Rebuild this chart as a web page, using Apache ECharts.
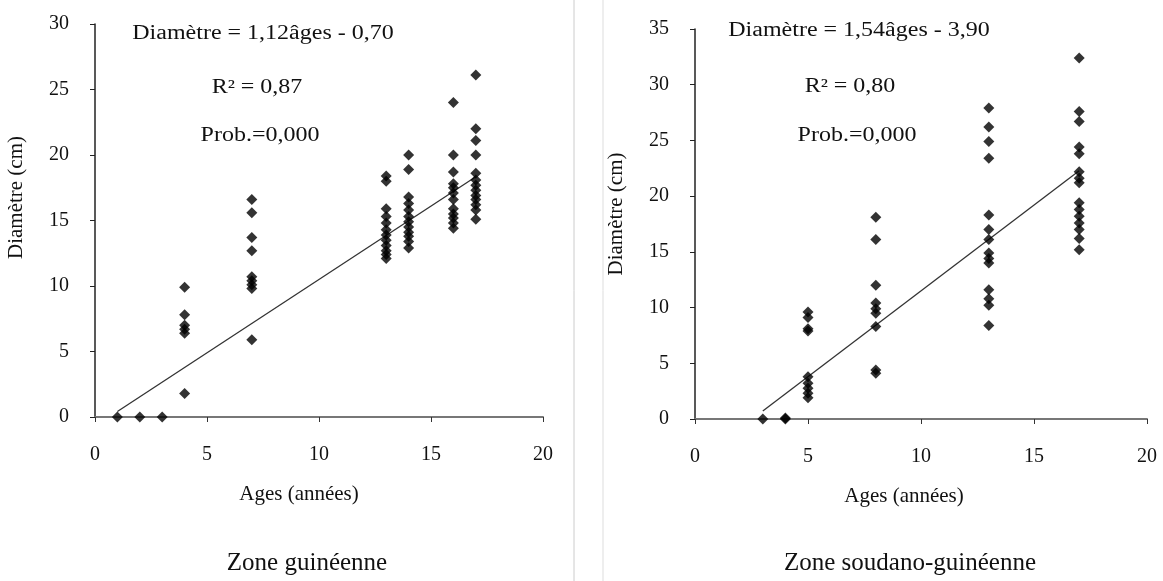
<!DOCTYPE html>
<html>
<head>
<meta charset="utf-8">
<script src="https://cdn.jsdelivr.net/npm/echarts@6/dist/echarts.min.js"></script>
<style>
    html, body { margin: 0; padding: 0; background: #fff; }
    #chart { width: 1163px; height: 581px; }
</style>
</head>
<body>
<div id="chart"></div>
<script>
// Zone guinéenne : âges et diamètres relevés par colonne d'âge
const agesG = [1, 2, 3, 4, 7, 13, 14, 16, 17];
const diamG = [
    [0],
    [0],
    [0],
    [9.9, 7.8, 7.0, 6.7, 6.4, 1.8],
    [16.6, 15.6, 13.7, 12.7, 10.7, 10.4, 10.1, 9.8, 5.9],
    [18.4, 18.0, 15.9, 15.3, 14.8, 14.3, 13.9, 13.5, 13.1, 12.7, 12.4, 12.1],
    [20.0, 18.9, 16.8, 16.3, 15.8, 15.3, 14.9, 14.5, 14.1, 13.8, 13.4, 12.9],
    [24.0, 20.0, 18.7, 17.8, 17.5, 17.1, 16.6, 15.9, 15.5, 15.2, 14.8, 14.4],
    [26.1, 22.0, 21.1, 20.0, 18.6, 18.1, 17.7, 17.3, 16.9, 16.6, 16.2, 15.8, 15.1]
];
// Zone soudano-guinéenne
const agesS = [3, 4, 5, 8, 13, 17];
const diamS = [
    [0],
    [0, 0.1],
    [9.6, 9.1, 8.1, 7.9, 3.8, 3.2, 2.75, 2.3, 1.9],
    [18.1, 16.1, 12.0, 10.4, 9.9, 9.5, 8.3, 4.4, 4.1],
    [27.9, 26.2, 24.9, 23.4, 18.3, 17.0, 16.1, 14.9, 14.4, 14.0, 11.6, 10.8, 10.2, 8.4],
    [32.4, 27.6, 26.7, 24.4, 23.8, 22.2, 21.6, 21.2, 19.4, 18.8, 18.2, 17.6, 17.0, 16.2, 15.2]
];

// droites de régression : [pente, ordonnée], étendue des âges
const fitG = [1.12, -0.70];
const rangeG = [1, 17];
const fitS = [1.54, -3.90];
const rangeS = [3, 17];

// textes
const eqG = ['Diamètre = 1,12âges - 0,70', 'R² = 0,87', 'Prob.=0,000'];
const eqS = ['Diamètre = 1,54âges - 3,90', 'R² = 0,80', 'Prob.=0,000'];
const zones = ['Zone guinéenne', 'Zone soudano-guinéenne'];
const xTicks = [0, 5, 10, 15, 20];

const SERIF = '"Liberation Serif", "Times New Roman", serif';

function toPoints(ages, diams) {
    let pts = [];
    ages.forEach(function (a, i) {
        diams[i].forEach(function (d) { pts.push([a, d]); });
    });
    return pts;
}
function fitLine(fit, range) {
    return range.map(function (x) { return [x, +(fit[0] * x + fit[1]).toFixed(3)]; });
}

function xAxisCfg(idx, padRight) {
    return {
        gridIndex: idx,
        type: 'value',
        min: xTicks[0], max: xTicks[xTicks.length - 1], interval: 5,
        name: 'Ages (années)',
        nameLocation: 'middle',
        nameGap: 67,
        nameTextStyle: { fontFamily: SERIF, fontSize: 21, color: '#111', padding: [0, padRight, 0, 0] },
        axisLine: { onZero: false, lineStyle: { color: '#777', width: 2 } },
        axisTick: { show: true, inside: false, length: 5, lineStyle: { color: '#333', width: 1 } },
        axisLabel: { fontFamily: SERIF, fontSize: 20, color: '#111', margin: 28 },
        splitLine: { show: false }
    };
}
function yAxisCfg(idx, max, padBottom) {
    return {
        gridIndex: idx,
        type: 'value',
        min: 0, max: max, interval: 5,
        name: 'Diamètre (cm)',
        nameLocation: 'middle',
        nameGap: 68,
        nameTextStyle: { fontFamily: SERIF, fontSize: 21, color: '#111', padding: [0, 0, 0, padBottom] },
        axisLine: { lineStyle: { color: '#222', width: 1.5 } },
        axisTick: { show: true, inside: false, length: 5, lineStyle: { color: '#222', width: 1 } },
        axisLabel: { fontFamily: SERIF, fontSize: 20, color: '#111', margin: 26 },
        splitLine: { show: false }
    };
}

function label(txt, x, y, size, sx) {
    return {
        type: 'text', x: x, y: y, scaleX: sx || 1,
        style: { text: txt, font: size + 'px ' + SERIF, fill: '#111', align: 'center', verticalAlign: 'middle' }
    };
}

let chart = echarts.init(document.getElementById('chart'));

let option = {
    backgroundColor: '#fff',
    animation: false,
    grid: [
        { left: 95, top: 24, width: 448, height: 393 },
        { left: 695, top: 29, width: 452, height: 390 }
    ],
    xAxis: [xAxisCfg(0, 40), xAxisCfg(1, 34)],
    yAxis: [yAxisCfg(0, 30, 46), yAxisCfg(1, 35, 20)],
    series: [
        {
            type: 'scatter', xAxisIndex: 0, yAxisIndex: 0,
            symbol: 'diamond', symbolSize: 11,
            itemStyle: { color: '#000' },
            data: toPoints(agesG, diamG), z: 3
        },
        {
            type: 'line', xAxisIndex: 0, yAxisIndex: 0,
            symbol: 'none',
            lineStyle: { color: '#333', width: 1.3 },
            data: fitLine(fitG, rangeG), z: 2
        },
        {
            type: 'scatter', xAxisIndex: 1, yAxisIndex: 1,
            symbol: 'diamond', symbolSize: 11,
            itemStyle: { color: '#000' },
            data: toPoints(agesS, diamS), z: 3
        },
        {
            type: 'line', xAxisIndex: 1, yAxisIndex: 1,
            symbol: 'none',
            lineStyle: { color: '#333', width: 1.3 },
            data: fitLine(fitS, rangeS), z: 2
        }
    ],
    graphic: [
        // séparateurs
        { type: 'line', shape: { x1: 574, y1: 0, x2: 574, y2: 581 }, style: { stroke: '#ccc', lineWidth: 1 } },
        { type: 'line', shape: { x1: 603, y1: 0, x2: 603, y2: 581 }, style: { stroke: '#ddd', lineWidth: 1 } },
        label(eqG[0], 263, 34, 20, 1.2),
        label(eqG[1], 257, 88, 20, 1.2),
        label(eqG[2], 260, 136, 20, 1.2),
        label(eqS[0], 859, 31, 20, 1.2),
        label(eqS[1], 850, 87, 20, 1.2),
        label(eqS[2], 857, 136, 20, 1.2),
        label(zones[0], 307, 563, 25),
        label(zones[1], 910, 563, 25)
    ]
};

chart.setOption(option);

window.onresize = function () {
    chart.resize();
};
</script>
</body>
</html>
